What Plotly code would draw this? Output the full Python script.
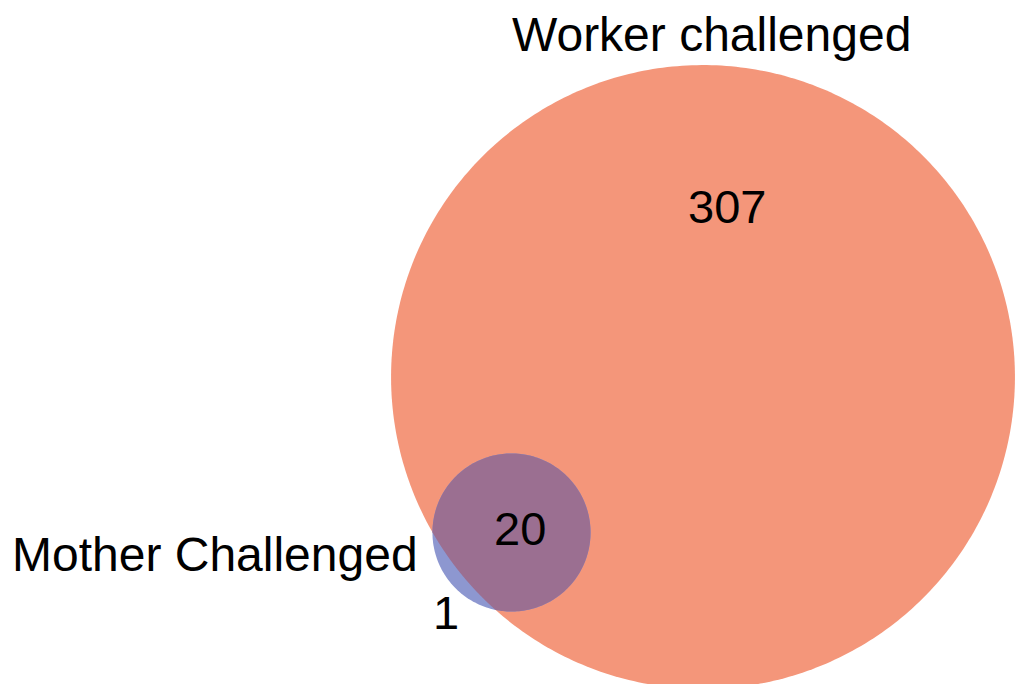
import numpy as np
import plotly.graph_objects as go

# ---- data ----
set_names = ["Worker challenged", "Mother Challenged"]
only_worker = 307
only_mother = 1
both = 20

# ---- layout params (pixel-like data coordinates) ----
W, H = 1021, 684
scale = 17.25                      # radius = scale * sqrt(set size)
big_c = (703.0, 377.0)
small_c = (511.5, 532.5)
col_big = "#F4967A"
col_small = "#8D97D0"
col_both = "#9B6F91"
font_fam = "Arial, Liberation Sans, sans-serif"

R = scale * np.sqrt(only_worker + both)
r = scale * np.sqrt(only_mother + both)

def circle_path(c, rad, n=240):
    t = np.linspace(0, 2 * np.pi, n)
    x = c[0] + rad * np.cos(t)
    y = c[1] + rad * np.sin(t)
    return "M " + " L ".join(f"{a:.2f},{b:.2f}" for a, b in zip(x, y)) + " Z"

# lens (intersection) path
dx, dy = big_c[0] - small_c[0], big_c[1] - small_c[1]
d = np.hypot(dx, dy)
theta_b = np.arctan2(dy, dx)
a = (r**2 - R**2 + d**2) / (2 * d)
alpha = np.arccos(np.clip(a / r, -1, 1))
beta = np.arccos(np.clip((d - a) / R, -1, 1))
phi = theta_b + np.pi
t1 = np.linspace(theta_b - alpha, theta_b + alpha, 200)
t2 = np.linspace(phi - beta, phi + beta, 200)
xs = np.concatenate([small_c[0] + r * np.cos(t1), big_c[0] + R * np.cos(t2)])
ys = np.concatenate([small_c[1] + r * np.sin(t1), big_c[1] + R * np.sin(t2)])
lens = "M " + " L ".join(f"{p:.2f},{q:.2f}" for p, q in zip(xs, ys)) + " Z"

fig = go.Figure()
fig.add_trace(go.Scatter(x=[0, W], y=[0, H], mode="markers",
                         marker=dict(opacity=0), hoverinfo="skip", showlegend=False))

shapes = [
    dict(type="path", path=circle_path(big_c, R, 400), xref="x", yref="y",
         fillcolor=col_big, line=dict(width=0), layer="below"),
    dict(type="path", path=circle_path(small_c, r), xref="x", yref="y",
         fillcolor=col_small, line=dict(width=0), layer="below"),
    dict(type="path", path=lens, xref="x", yref="y",
         fillcolor=col_both, line=dict(width=0), layer="below"),
]

annotations = [
    dict(x=711, y=34, text=set_names[0], showarrow=False, xanchor="center", yanchor="middle",
         font=dict(size=48, color="black", family=font_fam)),
    dict(x=420, y=554, text=set_names[1], showarrow=False, xanchor="right", yanchor="middle",
         font=dict(size=48, color="black", family=font_fam)),
    dict(x=727, y=206, text=str(only_worker), showarrow=False, xanchor="center", yanchor="middle",
         font=dict(size=47, color="black", family=font_fam)),
    dict(x=520, y=528, text=str(both), showarrow=False, xanchor="center", yanchor="middle",
         font=dict(size=47, color="black", family=font_fam)),
    dict(x=446, y=612, text=str(only_mother), showarrow=False, xanchor="center", yanchor="middle",
         font=dict(size=47, color="black", family=font_fam)),
]

fig.update_layout(
    width=W, height=H,
    margin=dict(l=0, r=0, t=0, b=0),
    paper_bgcolor="white", plot_bgcolor="white",
    xaxis=dict(range=[0, W], visible=False, fixedrange=True),
    yaxis=dict(range=[H, 0], visible=False, fixedrange=True),
    shapes=shapes, annotations=annotations, showlegend=False,
)

fig.write_html("out.html", config=dict(displayModeBar=False),
               post_script="document.body.style.margin='0';document.body.style.overflow='hidden';")
